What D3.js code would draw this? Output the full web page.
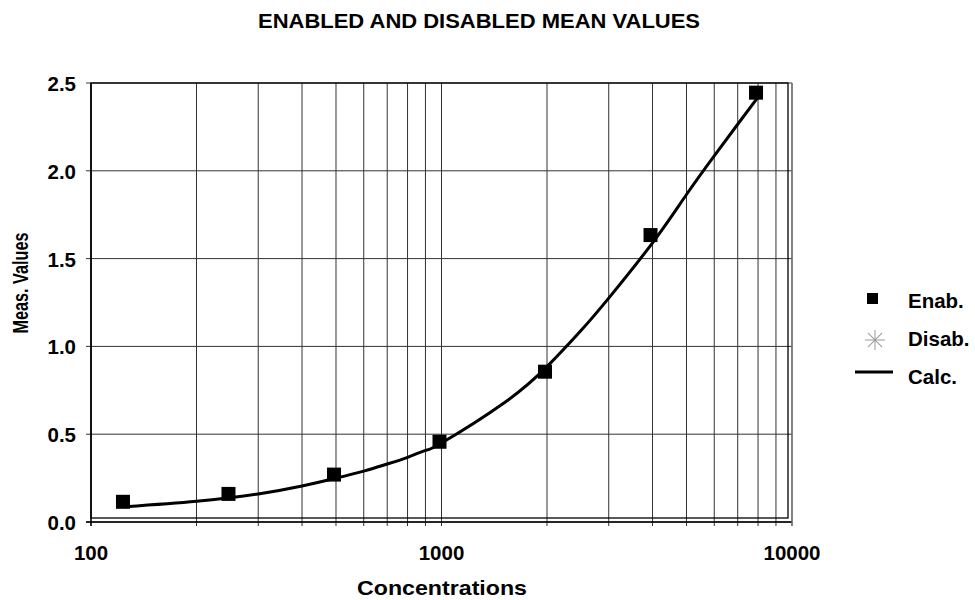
<!DOCTYPE html>
<html>
<head>
<meta charset="utf-8">
<script src="https://cdn.jsdelivr.net/npm/d3@7"></script>
<style>
  body { margin: 0; background: #fff; }
  text { font-family: "Liberation Sans", Arial, sans-serif; font-weight: bold; fill: #000; }
</style>
</head>
<body>
<svg id="chart" width="975" height="600"></svg>
<script>
// measured points (Enab.)
const enabConc = [125, 250, 500, 1000, 2000, 4000, 8000]
const enabVal = [0.115, 0.16, 0.27, 0.457, 0.856, 1.634, 2.445]

// calculated curve
const calcConc = [125, 200, 300, 400, 500, 600, 700, 800, 900, 1000, 1500, 2000, 2500, 3000, 4000, 5000, 6000, 7000, 8000]
const calcVal = [0.087, 0.118, 0.16, 0.205, 0.25, 0.29, 0.33, 0.368, 0.408, 0.45, 0.675, 0.885, 1.09, 1.275, 1.59, 1.865, 2.085, 2.265, 2.42]

const xLabels = [100, 1000, 10000]
const yTicks = [0, 0.5, 1.0, 1.5, 2.0, 2.5]
const legendItems = ['Enab.', 'Disab.', 'Calc.']

const plotLeft = 91, plotRight = 792, plotTop = 83, plotBottom = 522

var svg = d3.select('#chart')

var x = d3.scaleLog().domain([100, 10000]).range([plotLeft, plotRight])
var y = d3.scaleLinear().domain([0, 2.5]).range([plotBottom, plotTop])

// title
svg.append('text')
  .attr('x', 479).attr('y', 28)
  .attr('text-anchor', 'middle')
  .attr('textLength', 442).attr('lengthAdjust', 'spacingAndGlyphs')
  .style('font-size', '21px')
  .text('ENABLED AND DISABLED MEAN VALUES')

// vertical grid
svg.append('g').selectAll('line')
  .data(x.ticks()).enter().append('line')
  .attr('x1', d => x(d)).attr('x2', d => x(d))
  .attr('y1', plotTop).attr('y2', plotBottom + 4)
  .attr('stroke', '#333').attr('stroke-width', 1)

// horizontal grid
svg.append('g').selectAll('line')
  .data(yTicks).enter().append('line')
  .attr('x1', plotLeft - 5).attr('x2', plotRight)
  .attr('y1', d => y(d)).attr('y2', d => y(d))
  .attr('stroke', '#333').attr('stroke-width', 1)

// inner frame
svg.append('rect')
  .attr('x', plotLeft).attr('y', plotTop)
  .attr('width', plotRight - 4 - plotLeft).attr('height', plotBottom - 4 - plotTop)
  .attr('fill', 'none').attr('stroke', '#000').attr('stroke-width', 1.3)

// axis lines
svg.append('line')
  .attr('x1', plotLeft - 5).attr('x2', plotRight)
  .attr('y1', plotBottom).attr('y2', plotBottom)
  .attr('stroke', '#000').attr('stroke-width', 1.3)
svg.append('line')
  .attr('x1', plotLeft).attr('x2', plotLeft)
  .attr('y1', plotTop).attr('y2', plotBottom + 4)
  .attr('stroke', '#000').attr('stroke-width', 1.3)
svg.append('line')
  .attr('x1', plotRight).attr('x2', plotRight)
  .attr('y1', plotTop).attr('y2', plotBottom + 4)
  .attr('stroke', '#777').attr('stroke-width', 1.3)

// y tick labels
svg.append('g').selectAll('text')
  .data(yTicks).enter().append('text')
  .attr('x', 76).attr('y', d => y(d) + 8)
  .attr('text-anchor', 'end')
  .style('font-size', '20.5px')
  .text(d => d3.format('.1f')(d))

// x tick labels
svg.append('g').selectAll('text')
  .data(xLabels).enter().append('text')
  .attr('x', d => x(d)).attr('y', 560)
  .attr('text-anchor', 'middle')
  .style('font-size', '20.5px')
  .text(d => d)

// axis titles
svg.append('text')
  .attr('x', 442).attr('y', 595)
  .attr('text-anchor', 'middle')
  .attr('textLength', 170).attr('lengthAdjust', 'spacingAndGlyphs')
  .style('font-size', '21px')
  .text('Concentrations')

svg.append('text')
  .attr('transform', 'translate(28,283) rotate(-90)')
  .attr('text-anchor', 'middle')
  .attr('textLength', 101).attr('lengthAdjust', 'spacingAndGlyphs')
  .style('font-size', '22px')
  .text('Meas. Values')

// calc curve
var line = d3.line()
  .x((d, i) => x(calcConc[i]))
  .y(d => y(d))
  .curve(d3.curveNatural)

svg.append('path')
  .datum(calcVal)
  .attr('d', line)
  .attr('fill', 'none')
  .attr('stroke', '#000')
  .attr('stroke-width', 3)

// enabled markers
svg.append('g').selectAll('rect')
  .data(enabVal).enter().append('rect')
  .attr('x', (d, i) => x(enabConc[i]) - 9)
  .attr('y', d => y(d) - 7)
  .attr('width', 14).attr('height', 14)
  .attr('fill', '#000')

// legend
var legend = svg.append('g')
legend.selectAll('text')
  .data(legendItems).enter().append('text')
  .attr('x', 908)
  .attr('y', (d, i) => 308 + i * 38)
  .style('font-size', '20.5px')
  .text(d => d)

legend.append('rect')
  .attr('x', 867).attr('y', 293)
  .attr('width', 11).attr('height', 11)
  .attr('fill', '#000')

var star = legend.append('g').attr('transform', 'translate(875,340)')
star.selectAll('line')
  .data([0, 45, 90, 135]).enter().append('line')
  .attr('x1', -10).attr('x2', 10)
  .attr('y1', 0).attr('y2', 0)
  .attr('transform', d => `rotate(${d})`)
  .attr('stroke', '#999').attr('stroke-width', 1)

legend.append('line')
  .attr('x1', 855).attr('x2', 893)
  .attr('y1', 372).attr('y2', 372)
  .attr('stroke', '#000').attr('stroke-width', 3)
</script>
</body>
</html>
